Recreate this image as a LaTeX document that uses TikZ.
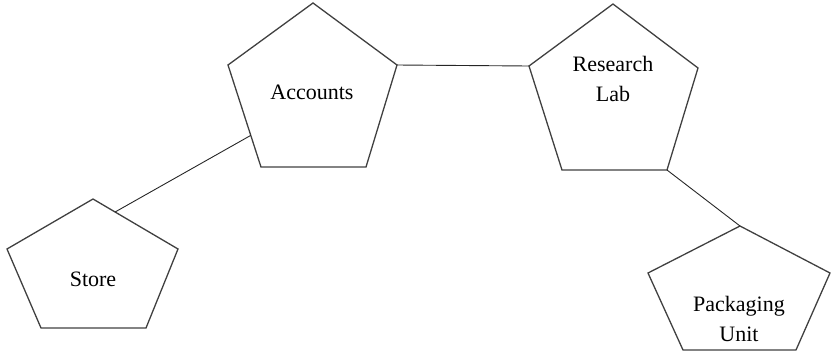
\documentclass[tikz,border=0pt]{standalone}
\usepackage{fontspec}
\setmainfont{Liberation Serif}
\usetikzlibrary{calc}
\tikzset{>=stealth}

\begin{document}
\begin{tikzpicture}[x=1pt, y=-1pt,
        unit/.style={draw=black!75, line width=1.3pt, line join=miter},
        link/.style={draw=black!85, line width=0.9pt},
        lbl/.style={font=\fontsize{22}{30}\selectfont, align=center, inner sep=0pt}]
        \useasboundingbox (0,0) rectangle (831,354);

        % departments
        \draw[unit] (313,3) coordinate (A1) -- (397,65) coordinate (A2) -- (366,167) coordinate (A3)
                -- (261,167) coordinate (A4) -- (228,65) coordinate (A5) -- cycle;
        \draw[unit] (613,4) coordinate (R1) -- (698,68) coordinate (R2) -- (667,170) coordinate (R3)
                -- (562,170) coordinate (R4) -- (529,66) coordinate (R5) -- cycle;
        \draw[unit] (93,199) coordinate (S1) -- (178,249) coordinate (S2) -- (146,328) coordinate (S3)
                -- (41,328) coordinate (S4) -- (7,249) coordinate (S5) -- cycle;
        \draw[unit] (740,226) coordinate (P1) -- (830,273) coordinate (P2) -- (796,350) coordinate (P3)
                -- (683,350) coordinate (P4) -- (648,273) coordinate (P5) -- cycle;

        \node[lbl] (acc) at (312,92) {Accounts};
        \node[lbl] (lab) at (613,79) {Research\\Lab};
        \node[lbl] (store) at (93,279) {Store};
        \node[lbl] (pack) at (739,319) {Packaging\\Unit};

        \coordinate (SA) at ($(S1)!0.26!(S2)$);
        \coordinate (AS) at ($(A5)!0.69!(A4)$);

        \draw[link] (A2) -- (R5);
        \draw[link] (SA) -- (AS);
        \draw[link] (R3) -- (P1);
\end{tikzpicture}
\end{document}
